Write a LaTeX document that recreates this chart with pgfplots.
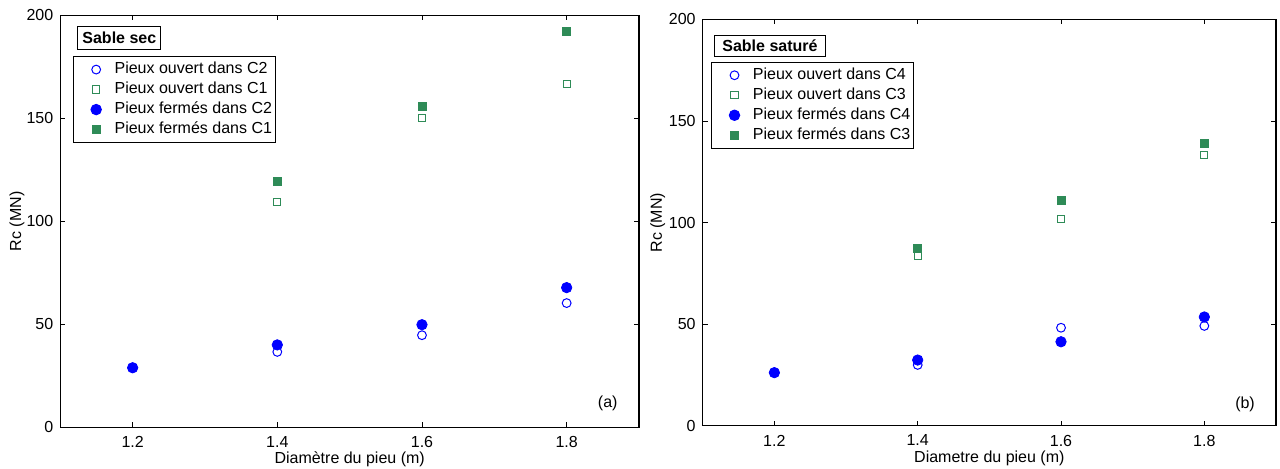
\documentclass[border=0pt]{standalone}
\usepackage{fontspec}
\setmainfont{Liberation Sans}
\usepackage{pgfplots}
\pgfplotsset{compat=1.18}
\definecolor{mblue}{RGB}{0,0,255}
\definecolor{mgreen}{RGB}{46,139,87}
\newcommand{\f}{\fontsize{8}{9.6}\selectfont}

\pgfplotsset{
  mystyle/.style={
    scale only axis,
    anchor=south west,
    xmin=1.1,xmax=1.9,ymin=0,ymax=200,
    xtick={1.2,1.4,1.6,1.8}, ytick={0,50,100,150,200},
    tick align=inside, major tick length=2.5pt,
    axis line style={line width=0.6pt},
    every tick/.style={black, line width=0.45pt},
    tick label style={font=\f},
    /pgf/number format/assume math mode=true,
    xticklabel style={/pgf/number format/fixed,/pgf/number format/precision=1, yshift=-1pt},
    ylabel={Rc (MN)},
    ylabel style={font=\f, at={(axis description cs:-0.075,0.5)}, anchor=center},
    xlabel style={font=\f, at={(axis description cs:0.5,-0.078)}, anchor=center},
    only marks,
    legend style={draw=black, line width=0.5pt, font=\f, legend cell align=left,
      anchor=north west, inner xsep=0.5pt, inner ysep=1.5pt,
      nodes={text height=6pt, text depth=1.6pt, inner sep=1.2pt}},
  },
  openc/.style={mark=o, mblue, mark size=2.2pt, line width=0.5pt},
  opens/.style={mark=square, mgreen, mark size=1.8pt, line width=0.5pt},
  fillc/.style={mark=*, mblue, mark size=2.6pt, mark options={fill=mblue, draw=mblue}},
  fills/.style={mark=square*, mgreen, mark size=2.0pt, mark options={fill=mgreen, draw=mgreen}},
}

\begin{document}
\begin{tikzpicture}
\path[use as bounding box] (0pt,0pt) rectangle (640pt,234.5pt);

% ---------- (a) Sable sec ----------
\begin{axis}[mystyle,
  at={(30.15pt,20.85pt)}, width=289.35pt, height=206pt,
  xlabel={Diamètre du pieu (m)},
  legend image code/.code={\path[draw=none,fill=none] (0pt,-3pt) rectangle (19pt,3pt);
    \draw[mark repeat=2,mark phase=2,#1] plot coordinates {(0pt,0pt)(11pt,0pt)(19pt,0pt)};},
  legend style={at={(rel axis cs:0.0214,0.901)}},
]
\addplot[openc] coordinates {(1.2,28.9) (1.4,36.6) (1.6,44.7) (1.8,60.3)};
\addlegendentry{Pieux ouvert dans C2}
\addplot[opens] coordinates {(1.4,109.4) (1.6,150.3) (1.8,166.8)};
\addlegendentry{Pieux ouvert dans C1}
\addplot[fillc] coordinates {(1.2,28.9) (1.4,40.0) (1.6,49.8) (1.8,67.8)};
\addlegendentry{Pieux fermés dans C2}
\addplot[fills] coordinates {(1.4,119.6) (1.6,156.0) (1.8,192.4)};
\addlegendentry{Pieux fermés dans C1}
\node[draw=black, line width=0.5pt, fill=white, anchor=north west, font=\bfseries\f,
  inner xsep=2.3pt, inner ysep=2.6pt] at (rel axis cs:0.0294,0.973) {Sable sec};
\node[font=\f] at (rel axis cs:0.946,0.057) {(a)};
\end{axis}

% ---------- (b) Sable saturé ----------
\begin{axis}[mystyle,
  at={(351.35pt,21.55pt)}, width=286.65pt, height=203.2pt,
  xlabel={Diametre du pieu (m)},
  ylabel style={at={(axis description cs:-0.0785,0.5)}},
  xlabel style={at={(axis description cs:0.5,-0.079)}},
  legend image code/.code={\path[draw=none,fill=none] (0pt,-3pt) rectangle (19pt,3pt);
    \draw[mark repeat=2,mark phase=2,#1] plot coordinates {(0pt,0pt)(11pt,0pt)(19pt,0pt)};},
  legend style={at={(rel axis cs:0.0145,0.896)}},
]
\addplot[openc] coordinates {(1.2,26.2) (1.4,30.0) (1.6,48.3) (1.8,49.2)};
\addlegendentry{Pieux ouvert dans C4}
\addplot[opens] coordinates {(1.4,83.8) (1.6,101.8) (1.8,133.3)};
\addlegendentry{Pieux ouvert dans C3}
\addplot[fillc] coordinates {(1.2,26.2) (1.4,32.4) (1.6,41.4) (1.8,53.6)};
\addlegendentry{Pieux fermés dans C4}
\addplot[fills] coordinates {(1.4,87.4) (1.6,111.2) (1.8,139.2)};
\addlegendentry{Pieux fermés dans C3}
\node[draw=black, line width=0.5pt, fill=white, anchor=north west, font=\bfseries\f,
  inner xsep=3.8pt, inner ysep=2.3pt] at (rel axis cs:0.0202,0.962) {Sable saturé};
\node[font=\f] at (rel axis cs:0.946,0.054) {(b)};
\end{axis}
\end{tikzpicture}
\end{document}
